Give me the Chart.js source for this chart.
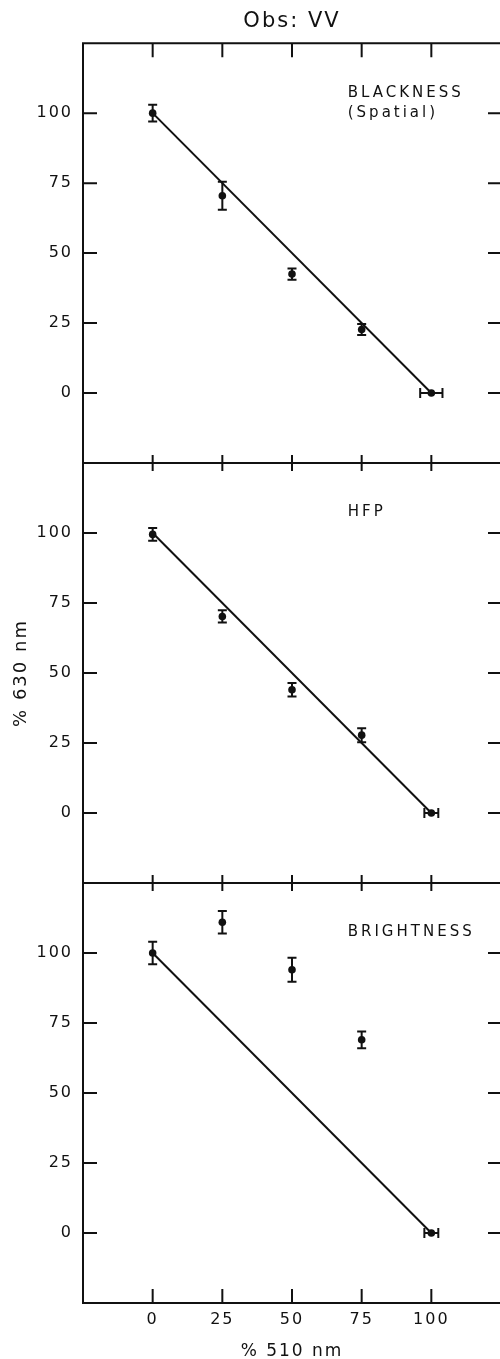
<!DOCTYPE html>
<html>
<head>
<meta charset="utf-8">
<title>Obs: VV</title>
<script src="https://cdn.jsdelivr.net/npm/chart.js@4.4.1/dist/chart.umd.min.js"></script>
<style>
  html, body { margin: 0; padding: 0; background: #fff; overflow: hidden; }
  #wrap { position: relative; width: 500px; height: 1359px; overflow: hidden; }
  .panel { position: absolute; left: 0; width: 510px; }
  canvas { display: block; }
</style>
</head>
<body>
<div id="wrap">
  <div class="panel" style="top:0;height:465px"><canvas id="c1" width="510" height="465"></canvas></div>
  <div class="panel" style="top:461px;height:424px"><canvas id="c2" width="510" height="424"></canvas></div>
  <div class="panel" style="top:881px;height:478px"><canvas id="c3" width="510" height="478"></canvas></div>
</div>
<script>
// mixture: % 510 nm in the test light
const pct510 = [0, 25, 50, 75, 100];
const xTicks = [0, 25, 50, 75, 100];
const yTicks = [0, 25, 50, 75, 100];

// % 630 nm needed, with error bars
const blackness = [100, 70.5, 42.5, 22.7, 0];
const blacknessErr = [3, 5, 2, 2, 0];
const blacknessXErr = [0, 0, 0, 0, 4];

const hfp = [99.5, 70.2, 44, 27.8, 0];
const hfpErr = [2.3, 2.2, 2.4, 2.5, 0];
const hfpXErr = [0, 0, 0, 0, 2.5];

const brightness = [100, 111, 94, 69, 0];
const brightnessErr = [4, 4, 4.3, 3, 0];
const brightnessXErr = [0, 0, 0, 0, 2.5];

// additivity prediction
const lineX = [0, 100];
const lineY = [100, 0];

const INK = '#111';
Chart.defaults.font.family = "'DejaVu Sans', sans-serif";
Chart.defaults.color = INK;

// keep the plot box fixed: no extra room for edge labels
function noPad(s) {
  s.paddingTop = 0; s.paddingBottom = 0;
  s.paddingLeft = 0; s.paddingRight = 0;
}

const framePlugin = {
  id: 'frame',
  beforeDraw(chart) {
    chart.ctx.letterSpacing = '2px';
  },
  beforeDatasetsDraw(chart) {
    const { ctx, scales: { x, y } } = chart;
    ctx.save();
    ctx.strokeStyle = INK;
    ctx.lineWidth = 2;
    ctx.beginPath();
    chart.data.datasets.forEach(ds => {
      if (!ds.yErr) return;
      ds.data.forEach((p, i) => {
        const px = x.getPixelForValue(p.x);
        const py = y.getPixelForValue(p.y);
        const e = ds.yErr[i];
        if (e) {
          const t = y.getPixelForValue(p.y + e), b = y.getPixelForValue(p.y - e);
          ctx.moveTo(px, t); ctx.lineTo(px, b);
          ctx.moveTo(px - 4.5, t); ctx.lineTo(px + 4.5, t);
          ctx.moveTo(px - 4.5, b); ctx.lineTo(px + 4.5, b);
        }
        const h = ds.xErr[i];
        if (h) {
          const l = x.getPixelForValue(p.x - h), r = x.getPixelForValue(p.x + h);
          ctx.moveTo(l, py); ctx.lineTo(r, py);
          ctx.moveTo(l, py - 5); ctx.lineTo(l, py + 5);
          ctx.moveTo(r, py - 5); ctx.lineTo(r, py + 5);
        }
      });
    });
    ctx.stroke();
    ctx.restore();
  },
  afterDatasetsDraw(chart, args, opts) {
    const { ctx, chartArea: a, scales: { x, y } } = chart;
    ctx.save();
    ctx.strokeStyle = INK;
    ctx.lineWidth = 2;
    ctx.beginPath();
    ctx.moveTo(a.right, a.top);
    ctx.lineTo(a.left, a.top);
    ctx.lineTo(a.left, a.bottom);
    ctx.lineTo(a.right, a.bottom);
    // inward ticks on all sides
    xTicks.forEach(v => {
      const px = x.getPixelForValue(v);
      ctx.moveTo(px, a.top); ctx.lineTo(px, a.top + opts.topTick);
      ctx.moveTo(px, a.bottom); ctx.lineTo(px, a.bottom - opts.bottomTick);
    });
    yTicks.forEach(v => {
      const py = y.getPixelForValue(v);
      ctx.moveTo(a.left, py); ctx.lineTo(a.left + 14, py);
      ctx.moveTo(a.right, py); ctx.lineTo(a.right - 13, py);
    });
    ctx.stroke();

    // panel label
    ctx.fillStyle = INK;
    ctx.font = "15px 'DejaVu Sans', sans-serif";
    ctx.letterSpacing = '3px';
    ctx.textAlign = 'left';
    ctx.textBaseline = 'middle';
    opts.label.forEach((txt, i) => {
      ctx.fillText(txt, x.getPixelForValue(70), y.getPixelForValue(107.3 - i * 7.3));
    });
    ctx.restore();
  }
};

function makePanel(id, values, yErr, xErr, label, cfg) {
  const xScale = {
    type: 'linear', min: -25, max: 125,
    display: !!cfg.xLabels,
    grid: { display: false, drawTicks: false },
    border: { display: false },
    afterBuildTicks: s => { s.ticks = xTicks.map(v => ({ value: v })); }
  };
  if (cfg.xLabels) {
    Object.assign(xScale, {
      position: 'bottom',
      ticks: { font: { size: 16 }, padding: 7, maxRotation: 0 },
      title: { display: true, text: '% 510 nm', font: { size: 17, lineHeight: 0.9 }, padding: 0 },
      afterFit: s => { s.height = 56; noPad(s); }
    });
  }
  return new Chart(document.getElementById(id), {
    type: 'scatter',
    data: {
      datasets: [
        {
          data: pct510.map((v, i) => ({ x: v, y: values[i] })),
          yErr, xErr,
          pointRadius: 3.8,
          pointHoverRadius: 3.8,
          pointBackgroundColor: INK,
          pointBorderWidth: 0
        },
        {
          type: 'line',
          data: lineX.map((v, i) => ({ x: v, y: lineY[i] })),
          borderColor: INK,
          borderWidth: 2,
          pointRadius: 0,
          fill: false
        }
      ]
    },
    options: {
      responsive: false,
      animation: false,
      layout: { padding: cfg.padding, autoPadding: false },
      scales: {
        x: xScale,
        y: {
          type: 'linear', min: -25, max: 125,
          grid: { display: false, drawTicks: false },
          border: { display: false },
          ticks: { font: { size: 16 }, padding: 10 },
          title: cfg.yTitle
            ? { display: true, text: '% 630 nm', font: { size: 18 }, padding: { top: 11, bottom: 0 } }
            : { display: false },
          afterBuildTicks: s => { s.ticks = yTicks.map(v => ({ value: v })); },
          afterFit: s => { s.width = 83; noPad(s); }
        }
      },
      plugins: {
        legend: { display: false },
        tooltip: { enabled: false },
        title: cfg.title
          ? { display: true, text: cfg.title, fullSize: false, font: { size: 21, weight: 'normal' }, padding: { top: 9, bottom: 9 } }
          : { display: false },
        frame: { label, topTick: cfg.topTick, bottomTick: cfg.bottomTick }
      }
    },
    plugins: [framePlugin]
  });
}

makePanel('c1', blackness, blacknessErr, blacknessXErr, ['BLACKNESS', '(Spatial)'],
  { title: 'Obs: VV', padding: { top: 0, bottom: 2, left: 0, right: 9 }, topTick: 14, bottomTick: 8 });
makePanel('c2', hfp, hfpErr, hfpXErr, ['HFP'],
  { yTitle: true, padding: { top: 2, bottom: 2, left: 0, right: 9 }, topTick: 8, bottomTick: 8 });
makePanel('c3', brightness, brightnessErr, brightnessXErr, ['BRIGHTNESS'],
  { xLabels: true, padding: { top: 2, bottom: 0, left: 0, right: 9 }, topTick: 8, bottomTick: 14 });
</script>
</body>
</html>
